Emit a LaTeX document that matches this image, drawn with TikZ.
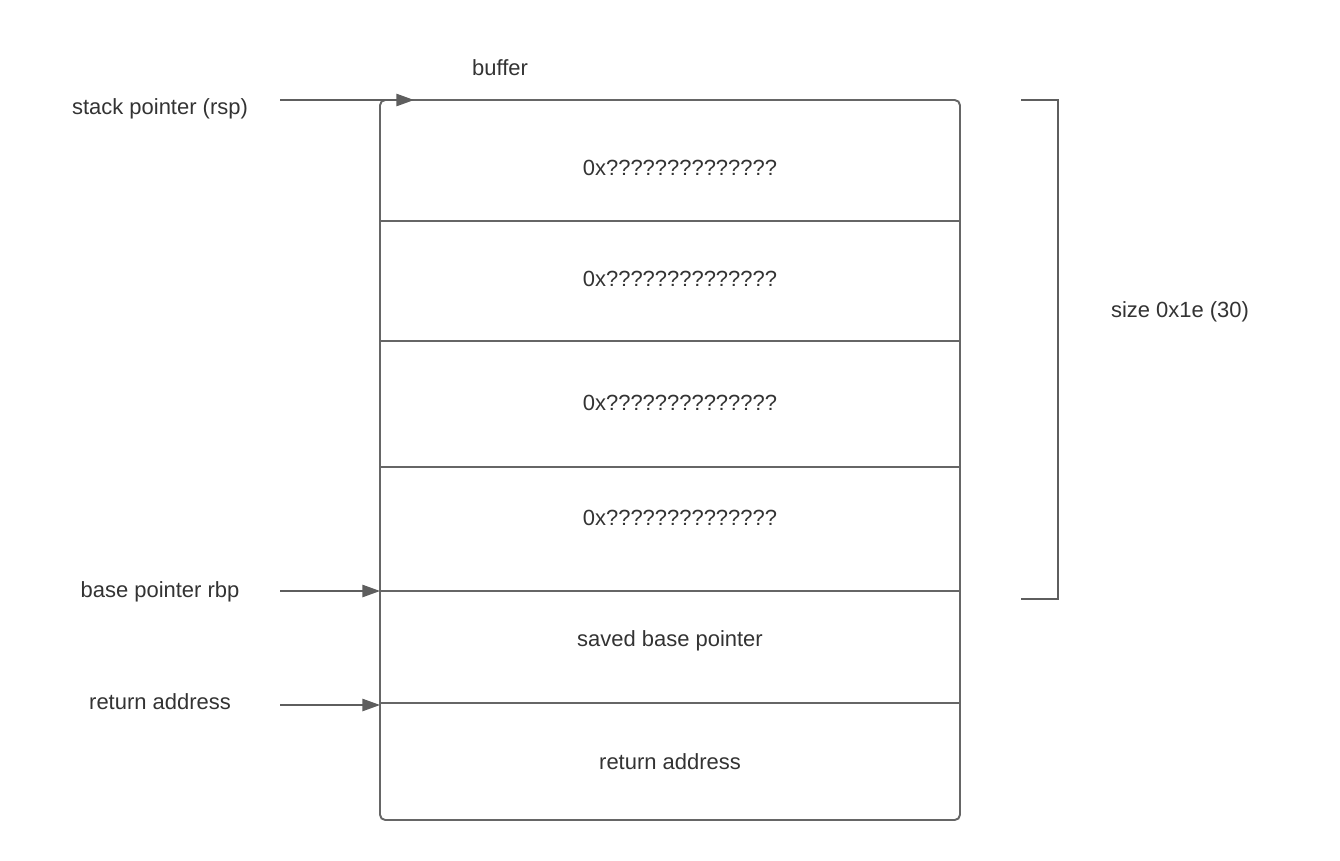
\documentclass[tikz,border=0pt]{standalone}
\usepackage{fontspec}
\setmainfont{Liberation Sans}
\usetikzlibrary{arrows.meta}
\definecolor{linegray}{HTML}{5E5E5E}
\definecolor{framegray}{HTML}{666666}
\definecolor{textgray}{HTML}{333333}
\begin{document}
\begin{tikzpicture}[x=0.02cm, y=-0.02cm,
    font=\fontsize{12.5}{15}\selectfont, text=textgray,
    frame/.style={draw=framegray, line width=1.1pt},
    ptr/.style={draw=linegray, line width=0.85pt, -{Triangle[length=10pt, width=7pt]}},
    lbl/.style={inner sep=1pt}]
  \useasboundingbox (0,0) rectangle (1340,860);

  % Stack frame
  \draw[frame, rounded corners=3pt] (380,100) rectangle (960,820);
  \foreach \y in {221,341,467,591,703}
    \draw[frame] (380,\y) -- (960,\y);

  % Cell contents
  \foreach \y [count=\i] in {168,279,403,518}
    \node[lbl] (cell\i) at (680,\y) {0x??????????????};
  \node[lbl] (saved) at (670,641) {saved base pointer};
  \node[lbl] (ret) at (670,762) {return address};
  \node[lbl] (buffer) at (500,68) {buffer};

  % Pointers
  \node[lbl] (rsp) at (160,109) {stack pointer (rsp)};
  \node[lbl] (rbp) at (160,592) {base pointer rbp};
  \node[lbl] (retaddr) at (160,702) {return address};
  \coordinate (rsp tail) at (280,100);
  \coordinate (rsp head) at (414,100);
  \coordinate (rbp tail) at (280,591);
  \coordinate (rbp head) at (380,591);
  \coordinate (ret tail) at (280,705);
  \coordinate (ret head) at (380,705);
  \draw[ptr] (rsp tail) -- (rsp head);
  \draw[ptr] (rbp tail) -- (rbp head);
  \draw[ptr] (ret tail) -- (ret head);

  % Size bracket
  \coordinate (br top) at (1021,100);
  \coordinate (br bot) at (1021,599);
  \draw[draw=linegray, line width=1.1pt] (br top) -| (1058,599) -- (br bot);
  \node[lbl] (size) at (1180,312) {size 0x1e (30)};
\end{tikzpicture}
\end{document}
